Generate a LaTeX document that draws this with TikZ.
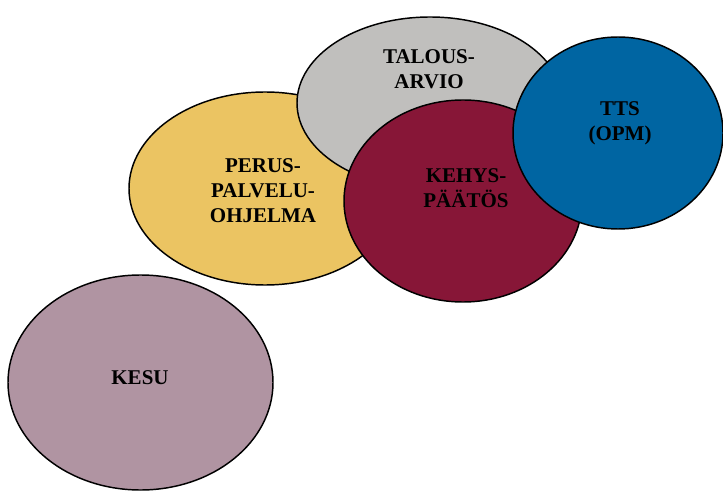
\documentclass[tikz,border=0pt]{standalone}
\usepackage{fontspec}
\setmainfont{Liberation Serif}
\usetikzlibrary{shapes.geometric}
\definecolor{cyellow}{RGB}{235,196,98}
\definecolor{cgray}{RGB}{192,191,189}
\definecolor{cred}{RGB}{135,22,55}
\definecolor{cblue}{RGB}{0,101,162}
\definecolor{cmauve}{RGB}{176,148,162}
\begin{document}
\begin{tikzpicture}[x=0.75pt,y=-0.75pt,
  blob/.style={ellipse,draw=black,line width=1.1pt,inner sep=0pt},
  lbl/.style={align=center,font=\fontsize{15.75}{18.75}\selectfont\bfseries,inner sep=0pt}]
\useasboundingbox (0,0) rectangle (723,491);
\node[blob,fill=cyellow,minimum width=272*0.75pt,minimum height=193*0.75pt] (yel) at (265,188.5) {};
\node[blob,fill=cgray,minimum width=266*0.75pt,minimum height=172*0.75pt] (gra) at (430,103) {};
\node[blob,fill=cred,minimum width=238*0.75pt,minimum height=202*0.75pt] (red) at (463,201) {};
\node[blob,fill=cblue,minimum width=210*0.75pt,minimum height=192*0.75pt] (blu) at (618,133) {};
\node[blob,fill=cmauve,minimum width=265*0.75pt,minimum height=215*0.75pt] (mau) at (140.5,382.5) {};
\node[lbl] (tyel) at (263,191) {PERUS-\\PALVELU-\\OHJELMA};
\node[lbl] (tgra) at (429,69) {TALOUS-\\ARVIO};
\node[lbl] (tred) at (466,188) {KEHYS-\\PÄÄTÖS};
\node[lbl] (tblu) at (620,123) {TTS\\(OPM)};
\node[lbl] (tmau) at (140,378) {KESU};
\end{tikzpicture}
\end{document}
